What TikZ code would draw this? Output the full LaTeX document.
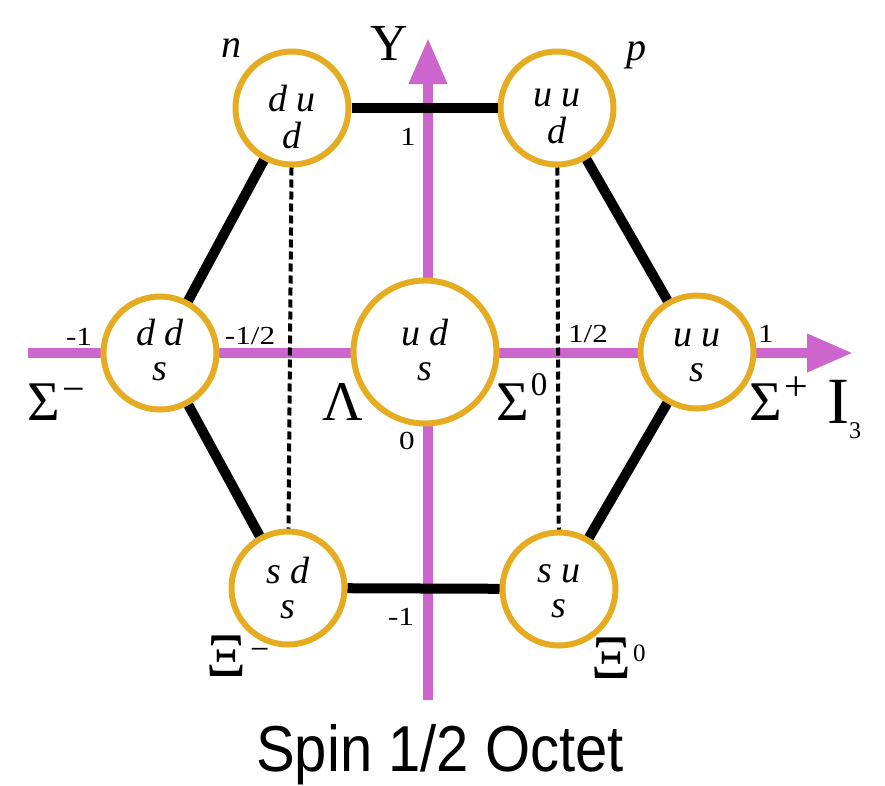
\documentclass[tikz,border=0pt]{standalone}
\usepackage{fontspec}
\setmainfont{Liberation Serif}
\newfontfamily\captionfont{Liberation Sans}
\usetikzlibrary{arrows.meta}
\definecolor{gold}{RGB}{229,172,34}
\definecolor{axispurple}{RGB}{204,102,204}
\begin{document}
\begin{tikzpicture}[x=1pt,y=-1pt,
  quark/.style={circle, draw=gold, line width=6pt, fill=white, minimum size=113pt, inner sep=0pt},
  bigquark/.style={quark, minimum size=143pt},
  qtext/.style={inner sep=0pt, align=center, font=\fontsize{38}{35}\selectfont\itshape},
  hexline/.style={line width=10pt},
  vdash/.style={line width=4pt, dash pattern=on 8pt off 4pt},
  axisline/.style={draw=axispurple, line width=10pt, -{Triangle[length=46pt,width=36pt]}},
  greek/.style={inner sep=0pt, anchor=base west, font=\fontsize{56}{56}\selectfont},
  numlbl/.style={inner sep=0pt, font=\fontsize{26}{26}\selectfont},
  particlename/.style={inner sep=0pt, anchor=base west, font=\fontsize{40}{40}\selectfont\itshape}
]
\useasboundingbox (0,0) rectangle (885,785);
\fill[white] (0,0) rectangle (885,785);

% axes
\coordinate (xl) at (28,353);
\coordinate (xr) at (853,353);
\coordinate (yb) at (428,700);
\coordinate (yt) at (428,38);
\draw[axisline] (xl) -- (xr);
\draw[axisline] (yb) -- (yt);

% circles
\node[quark] (n) at (292,108) {};
\node[quark] (p) at (557,108) {};
\node[quark] (sm) at (160,353) {};
\node[bigquark] (lam) at (425,352) {};
\node[quark] (sp) at (697,352) {};
\node[quark] (xm) at (288,588) {};
\node[quark] (x0) at (559,589) {};

% quark contents
\node[qtext] (nt) at (292,122) {\strut d u\\\strut d};
\node[qtext] (pt) at (557,118) {\strut u u\\\strut d};
\node[qtext] (smt) at (160,355) {\strut d d\\\strut s};
\node[qtext] (lamt) at (425,355) {\strut u d\\\strut s};
\node[qtext] (spt) at (697,357) {\strut u u\\\strut s};
\node[qtext] (xmt) at (288,593) {\strut s d\\\strut s};
\node[qtext] (x0t) at (559,593) {\strut s u\\\strut s};

% hexagon
\draw[hexline] (n) -- (p);
\draw[hexline] (n) -- (sm);
\draw[hexline] (p) -- (sp);
\draw[hexline] (sp) -- (x0);
\draw[hexline] (x0) -- (xm);
\draw[hexline] (xm) -- (sm);

% dashed verticals
\draw[vdash] (n) -- (xm);
\draw[vdash] (p) -- (x0);

% numbers
\node[numlbl] (m1) at (79,337) {\scalebox{1.2}[1]{-1}};
\node[numlbl] (mh) at (250,336) {\scalebox{1.2}[1]{-1/2}};
\node[numlbl] (ph) at (588,334) {\scalebox{1.2}[1]{1/2}};
\node[numlbl] (p1) at (766,334) {\scalebox{1.2}[1]{1}};
\node[numlbl] (y1) at (408,137) {\scalebox{1.2}[1]{1}};
\node[numlbl] (y0) at (407,441) {\scalebox{1.2}[1]{0}};
\node[numlbl] (ym1) at (401,617) {\scalebox{1.2}[1]{-1}};

% greek labels
\node[greek] (Lsm) at (27,420) {Σ\kern3pt\raisebox{18pt}{\fontsize{40}{40}\selectfont −}};
\node[greek] (Llam) at (322,420) {Λ};
\node[greek] (Ls0) at (496,420) {Σ\kern2pt\raisebox{25pt}{\fontsize{33}{33}\selectfont 0}};
\node[greek] (Lsp) at (749,420) {Σ\kern3pt\raisebox{20pt}{\fontsize{42}{42}\selectfont +}};
\node[greek, font=\fontsize{66}{66}\selectfont] (LI) at (827,423) {I\raisebox{-15pt}{\fontsize{24}{24}\selectfont 3}};
\node[greek, font=\fontsize{52}{52}\selectfont] (LY) at (370,60) {Y};
\node[greek, font=\fontsize{62}{62}\selectfont] (Lxm) at (206,676) {Ξ\kern4pt\raisebox{16pt}{\fontsize{34}{34}\selectfont −}};
\node[greek, font=\fontsize{62}{62}\selectfont] (Lx0) at (591,678) {Ξ\kern2pt\raisebox{17pt}{\fontsize{25}{25}\selectfont 0}};
\node[particlename] (Ln) at (221,57) {n};
\node[particlename] (Lp) at (626,60) {p};

% caption
\node[inner sep=0pt, anchor=base, font=\captionfont\fontsize{58}{58}\selectfont] (cap) at (440,771) {\scalebox{1}[1.12]{Spin 1/2 Octet}};
\end{tikzpicture}
\end{document}
